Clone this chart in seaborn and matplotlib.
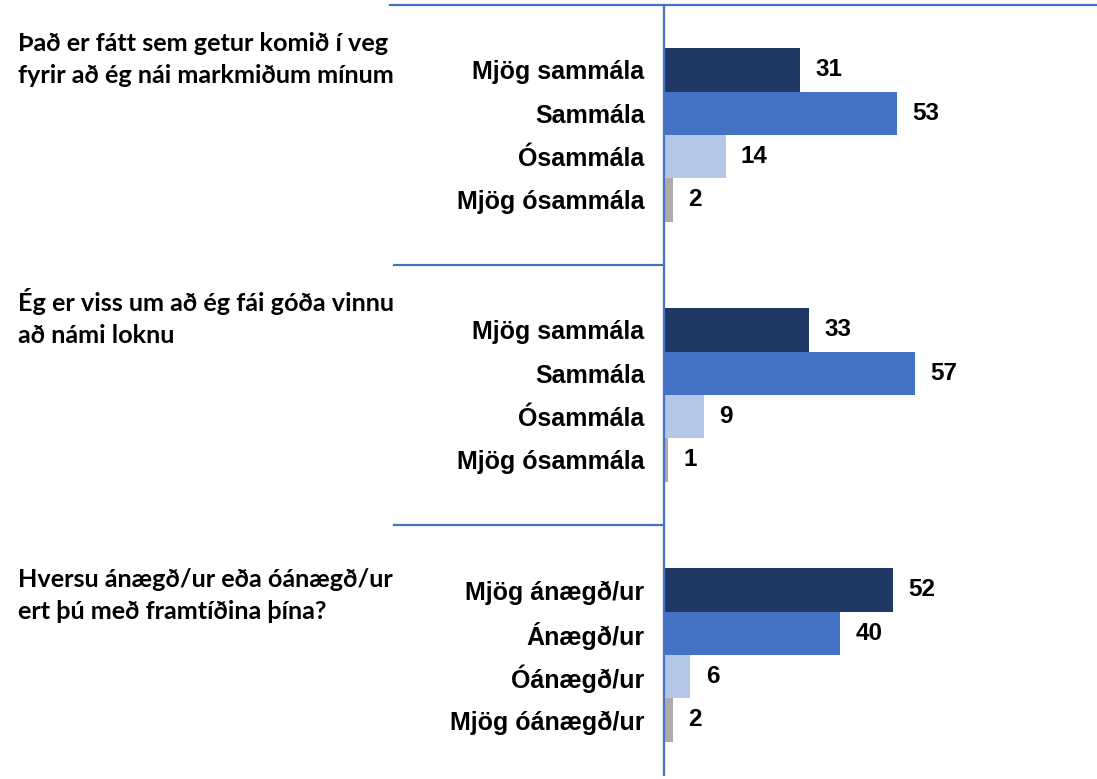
import matplotlib

matplotlib.use("Agg")
import matplotlib.pyplot as plt
import pandas as pd
import seaborn as sns

# --- data ------------------------------------------------------------------
questions = [
    "Það er fátt sem getur komið í veg\nfyrir að ég nái markmiðum mínum",
    "Ég er viss um að ég fái góða vinnu\nað námi loknu",
    "Hversu ánægð/ur eða óánægð/ur\nert þú með framtíðina þína?",
]
agree_labels = ["Mjög sammála", "Sammála", "Ósammála", "Mjög ósammála"]
happy_labels = ["Mjög ánægð/ur", "Ánægð/ur", "Óánægð/ur", "Mjög óánægð/ur"]
q1_values = [31, 53, 14, 2]
q2_values = [33, 57, 9, 1]
q3_values = [52, 40, 6, 2]

group_labels = [agree_labels, agree_labels, happy_labels]
group_values = [q1_values, q2_values, q3_values]
level_colors = {"L0": "#203864", "L1": "#4472C4", "L2": "#B4C7E7", "L3": "#AFABAB"}
LINE = "#4472C4"

rows, order, tick_text = [], [], {}
for g, (labels, values) in enumerate(zip(group_labels, group_values)):
    order.append(f"{g}-pre")  # empty slot above each block
    for i, (lab, val) in enumerate(zip(labels, values)):
        key = f"{g}-{i}"
        rows.append({"key": key, "label": lab, "value": val, "level": f"L{i}"})
        order.append(key)
        tick_text[key] = lab
    order.append(f"{g}-post")  # empty slot below each block
df = pd.DataFrame(rows)

# --- figure ----------------------------------------------------------------
W, H = 1097, 779
fig = plt.figure(figsize=(W / 100, H / 100), dpi=100)
ax_left, ax_top, ax_bottom = 664, 5, 775
ax = fig.add_axes([ax_left / W, 1 - ax_bottom / H, 1 - ax_left / W, (ax_bottom - ax_top) / H])

sns.barplot(
    data=df, x="value", y="key", hue="level", order=order,
    palette=level_colors, dodge=False, width=1.0, orient="h",
    legend=False, ax=ax, errorbar=None, saturation=1,
)

slot_px = 43.33
ax.set_ylim((ax_bottom - ax_top) / slot_px - 0.5, -0.5)
ax.set_xlim(0, (W - ax_left) / 4.4)

for cont in ax.containers:
    ax.bar_label(cont, fmt="%d", padding=11, fontsize=17.5, fontweight="bold",
                 family="Liberation Sans")

ax.set_yticks(range(len(order)))
ax.set_yticklabels([tick_text.get(k, "") for k in order], fontsize=18,
                   fontweight="bold", family="Liberation Sans")
ax.tick_params(axis="y", length=0, pad=14)
ax.set_xticks([])
ax.set_xlabel(""); ax.set_ylabel("")

for side in ["top", "right", "bottom"]:
    ax.spines[side].set_visible(False)
ax.spines["left"].set_color(LINE)
ax.spines["left"].set_linewidth(1.6)

# separator lines between the question blocks
ytr = ax.get_yaxis_transform()
ax_w = W - ax_left
ax.plot([(390 - ax_left) / ax_w, 1], [-0.5, -0.5], color=LINE, lw=1.6,
        transform=ytr, clip_on=False)
for yb in [5.5, 11.5]:
    ax.plot([(394 - ax_left) / ax_w, 0], [yb, yb], color=LINE, lw=1.6,
            transform=ytr, clip_on=False)

# question texts
for q, top_px in zip(questions, [32, 288, 568]):
    fig.text(18 / W, 1 - top_px / H, q, ha="left", va="top", fontsize=18.2,
             fontweight="bold", family="Lato", linespacing=1.45)

fig.savefig("out.png", dpi=100)
